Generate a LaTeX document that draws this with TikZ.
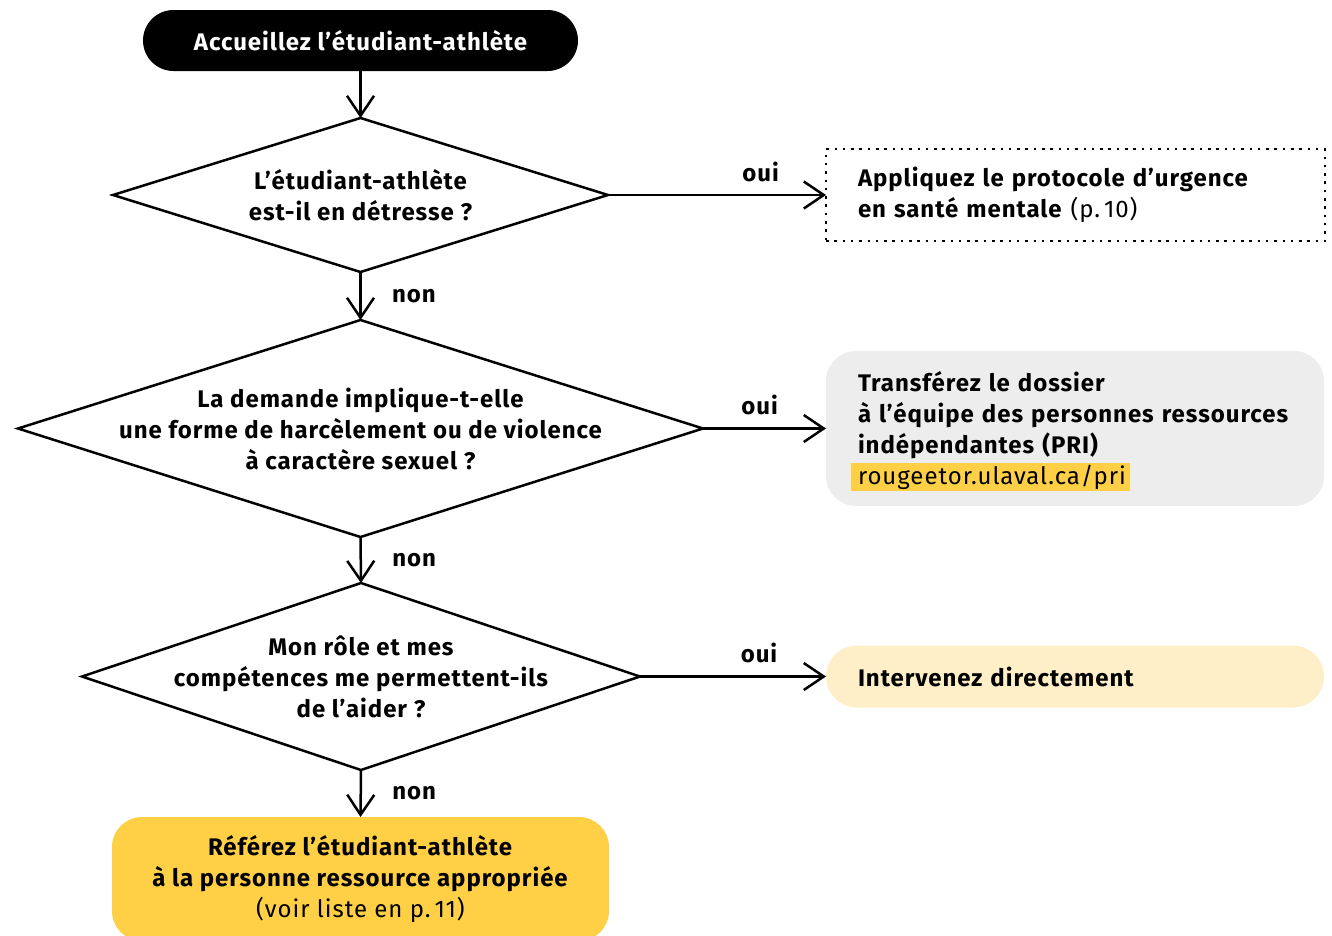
\documentclass[tikz,border=0pt]{standalone}
\usepackage{fontspec}
\setmainfont{Fira Sans}[LetterSpace=4]
\usetikzlibrary{shapes.geometric,arrows.meta}
\definecolor{ylw}{HTML}{FFD045}
\definecolor{cream}{HTML}{FFEFC8}
\definecolor{grayfill}{HTML}{EDEDED}
\tikzset{
  txt/.style={font=\fontsize{24}{31}\selectfont},
  btxt/.style={font=\fontsize{24}{31}\selectfont\bfseries},
  decision/.style={diamond,draw,line width=2.5pt,inner sep=0pt,outer sep=0pt},
  conn/.style={line width=2.5pt,-{Straight Barb[length=20pt,width=27pt,line width=2.5pt]}},
  lbl/.style={btxt},
  leftbox/.style={txt,align=left,text width=434pt,inner xsep=32pt,inner ysep=0pt,outer sep=0pt,anchor=west},
}
\begin{document}
\begin{tikzpicture}[x=1pt,y=-1pt]
\useasboundingbox (0,0) rectangle (1332,935);
\clip (0,0) rectangle (1332,935);
% start
\node[btxt,fill=black,text=white,rounded corners=30.5pt,minimum width=435pt,minimum height=61pt,inner sep=0pt,outer sep=0pt] (start) at (360.5,40.5) {Accueillez l’étudiant-athlète};
% decisions
\node[decision,minimum width=495pt,minimum height=154pt] (d1) at (360.5,195) {};
\node[btxt,align=center] (t1) at (d1.center) {L’étudiant-athlète\\est-il en détresse ?};
\node[decision,minimum width=685pt,minimum height=217pt] (d2) at (360.5,428.5) {};
\node[btxt,align=center] (t2) at (d2.center) {La demande implique-t-elle\\une forme de harcèlement ou de violence\\à caractère sexuel ?};
\node[decision,minimum width=558pt,minimum height=187pt] (d3) at (361,676.5) {};
\node[btxt,align=center] (t3) at (d3.center) {Mon rôle et mes\\compétences me permettent-ils\\de l’aider ?};
% outcome boxes
\node[leftbox,text width=435pt,draw,line width=2.5pt,dash pattern=on 2.5pt off 5.8pt,minimum height=92pt] (b1) at (826,195) {\textbf{Appliquez le protocole d’urgence}\\\textbf{en santé mentale} (p.\,10)};
\node[leftbox,fill=grayfill,rounded corners=30pt,minimum height=155pt] (b2) at (826,428.5) {\rule{0pt}{25pt}\textbf{Transférez le dossier}\\\textbf{à l’équipe des personnes ressources}\\\textbf{indépendantes (PRI)}\\{\setlength{\fboxsep}{0pt}\hspace*{-7pt}\colorbox{ylw}{\rule[-6pt]{0pt}{28pt}\hspace{7pt}rougeetor.ulaval.ca/pri\hspace{4pt}}}};
\node[leftbox,fill=cream,rounded corners=31pt,minimum height=62pt] (b3) at (826,676.5) {\textbf{Intervenez directement}};
\node[txt,align=center,fill=ylw,rounded corners=30pt,minimum width=497pt,minimum height=124pt,inner sep=0pt,outer sep=0pt] (b4) at (360.5,879) {\textbf{Référez l’étudiant-athlète}\\\textbf{à la personne ressource appropriée}\\(voir liste en p.\,11)};
% connectors
\draw[conn] (start.south) -- (d1.north);
\draw[conn] (d1.east) -- (b1.west) node[lbl,pos=0.7,above=9pt] (o1) {oui};
\draw[conn] (d1.south) -- (d2.north) node[lbl,midway,right=27pt] (n1) {non};
\draw[conn] (d2.east) -- (b2.west) node[lbl,pos=0.46,above=9pt] (o2) {oui};
\draw[conn] (d2.south) -- (d3.north) node[lbl,midway,right=27pt] (n2) {non};
\draw[conn] (d3.east) -- (b3.west) node[lbl,pos=0.64,above=9pt] (o3) {oui};
\draw[conn] (d3.south) -- (b4.north) node[lbl,midway,right=27pt] (n3) {non};
\end{tikzpicture}
\end{document}
